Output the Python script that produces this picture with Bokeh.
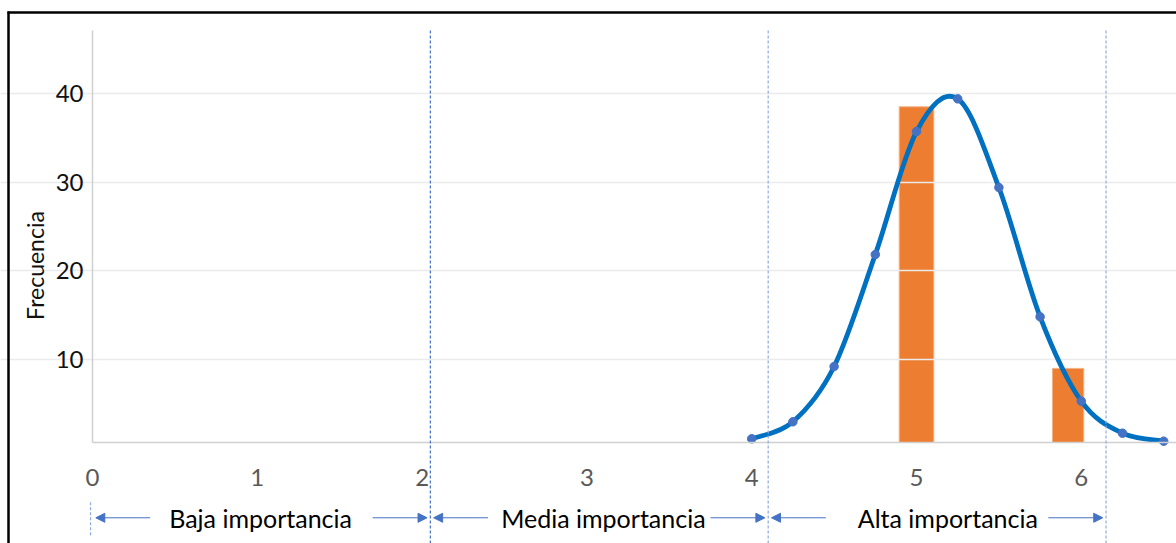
import numpy as np
from bokeh.plotting import figure
from bokeh.models import Range1d, FixedTicker, Arrow, NormalHead, Label, ColumnDataSource
from bokeh.embed import file_html
from bokeh.resources import INLINE

# ---- data ----
x_ticks = [0, 1, 2, 3, 4, 5, 6]
y_ticks = [10, 20, 30, 40]

bar_x = [5.0, 5.92]
bar_freq = [38.5, 9.0]
bar_width = [0.21, 0.19]

curve_x = [4.0, 4.25, 4.5, 4.75, 5.0, 5.25, 5.5, 5.75, 6.0, 6.25, 6.5]
curve_y = [1.06, 2.98, 9.21, 21.84, 35.71, 39.40, 29.4, 14.82, 5.30, 1.69, 0.79]

boundaries = [0.0, 2.05, 4.1, 6.15]
region_names = ["Baja importancia", "Media importancia", "Alta importancia"]
region_label_x = [1.02, 3.1, 5.19]

FONT = "Lato"
BLUE = "#4472C4"

# layout constants (value range of the drawing area)
BASE = 0.64          # value at which the horizontal axis sits
Y_TOP = 47.1         # top of the vertical axis
X_END = 6.578        # right end of the plotting area
XR = (-0.5583, 6.5777)
YR = (-10.75, 50.49)

p = figure(width=1176, height=543, output_backend="svg", toolbar_location=None,
           x_range=Range1d(*XR), y_range=Range1d(*YR),
           min_border_left=0, min_border_right=0, min_border_top=0, min_border_bottom=0)
p.outline_line_color = None
p.background_fill_color = "white"
p.border_fill_color = "white"

# axes (fixed inside the drawing area)
p.xaxis.fixed_location = BASE
p.xaxis.bounds = (0, X_END)
p.xaxis.ticker = FixedTicker(ticks=x_ticks)
p.xaxis.major_label_text_font = FONT
p.xaxis.major_label_text_font_size = "24px"
p.xaxis.major_label_text_color = "#595959"
p.xaxis.major_label_standoff = 20
p.xaxis.axis_line_color = "#d0d0d0"
p.xaxis.axis_line_width = 1.5
p.xaxis.major_tick_line_color = None
p.xaxis.minor_tick_line_color = None

p.yaxis.fixed_location = 0
p.yaxis.bounds = (BASE, Y_TOP)
p.yaxis.ticker = FixedTicker(ticks=y_ticks)
p.yaxis.major_label_text_font = FONT
p.yaxis.major_label_text_font_size = "24px"
p.yaxis.major_label_text_color = "#111111"
p.yaxis.major_label_standoff = 3
p.yaxis.axis_line_color = "#d0d0d0"
p.yaxis.axis_line_width = 1.5
p.yaxis.major_tick_line_color = None
p.yaxis.minor_tick_line_color = None

p.xgrid.grid_line_color = None
p.ygrid.grid_line_color = "#ebebeb"
p.ygrid.grid_line_width = 1.5
p.ygrid.bounds = (0, X_END)

# y axis title
p.add_layout(Label(x=34, y=543 - 265, x_units="screen", y_units="screen", text="Frecuencia",
                   angle=np.pi / 2, text_align="center", text_baseline="middle",
                   text_font=FONT, text_font_size="23px", text_color="#111111"))

# bars (drawn beneath the grid so grid lines show across them)
src = ColumnDataSource(dict(x=bar_x, top=bar_freq, w=bar_width))
bars = p.vbar(x="x", top="top", width="w", bottom=BASE, source=src,
              fill_color="#ED7D31", line_color="#F4B183", line_width=1)
bars.level = "image"

# smoothed curve (Catmull-Rom -> cubic Bezier through the data points)
pts = np.column_stack([curve_x, curve_y])
n = len(pts)
x0, y0, x1, y1, cx0, cy0, cx1, cy1 = [], [], [], [], [], [], [], []
for i in range(n - 1):
    P0 = pts[i - 1] if i > 0 else pts[i]
    P1 = pts[i]
    P2 = pts[i + 1]
    P3 = pts[i + 2] if i + 2 < n else pts[i + 1]
    c1 = P1 + (P2 - P0) / 6.0
    c2 = P2 - (P3 - P1) / 6.0
    x0.append(P1[0]); y0.append(P1[1]); x1.append(P2[0]); y1.append(P2[1])
    cx0.append(c1[0]); cy0.append(c1[1]); cx1.append(c2[0]); cy1.append(c2[1])
p.bezier(x0=x0, y0=y0, x1=x1, y1=y1, cx0=cx0, cy0=cy0, cx1=cx1, cy1=cy1,
         line_color="#0070C0", line_width=4.8, line_cap="round")
p.scatter(curve_x, curve_y, size=8.5, fill_color=BLUE, line_color=BLUE)

# region boundary lines (extend below the plot area)
Y_BOTTOM = YR[0]
Y_ARROW = -7.85
boundary_styles = [
    dict(y_start=-6.1, y_end=-9.9, color="#8FAADC", dx=-0.012),
    dict(y_start=Y_TOP, y_end=Y_BOTTOM, color=BLUE, dx=0),
    dict(y_start=Y_TOP, y_end=Y_BOTTOM, color="#8FAADC", dx=0),
    dict(y_start=Y_TOP, y_end=Y_BOTTOM, color="#8FAADC", dx=0),
]
for bx, st in zip(boundaries, boundary_styles):
    p.add_layout(Arrow(end=None, x_start=bx + st["dx"], x_end=bx + st["dx"],
                       y_start=st["y_start"], y_end=st["y_end"],
                       line_color=st["color"], line_width=1.2, line_dash="3 2"))

# region arrows and labels
GAP = 0.02
ALEN = 0.33
for i, name in enumerate(region_names):
    a, b = boundaries[i], boundaries[i + 1]
    p.add_layout(Arrow(end=NormalHead(size=9, fill_color=BLUE, line_color=BLUE),
                       x_start=a + GAP + ALEN, x_end=a + GAP, y_start=Y_ARROW, y_end=Y_ARROW,
                       line_color=BLUE, line_width=1))
    p.add_layout(Arrow(end=NormalHead(size=9, fill_color=BLUE, line_color=BLUE),
                       x_start=b - GAP - ALEN, x_end=b - GAP, y_start=Y_ARROW, y_end=Y_ARROW,
                       line_color=BLUE, line_width=1))
    p.add_layout(Label(x=region_label_x[i], y=Y_ARROW, text=name, text_align="center",
                       text_baseline="middle", text_font=FONT, text_font_size="25px",
                       text_color="#000000"))

# outer frame (top and left edges); screen units measured from the bottom-left corner
p.add_layout(Arrow(end=None, x_start=7, y_start=531, x_end=1176, y_end=531,
                   start_units="screen", end_units="screen", line_color="#000000", line_width=2.5))
p.add_layout(Arrow(end=None, x_start=8, y_start=0, x_end=8, y_end=532,
                   start_units="screen", end_units="screen", line_color="#000000", line_width=2.5))

open("out.html", "w").write(file_html(p, INLINE))
